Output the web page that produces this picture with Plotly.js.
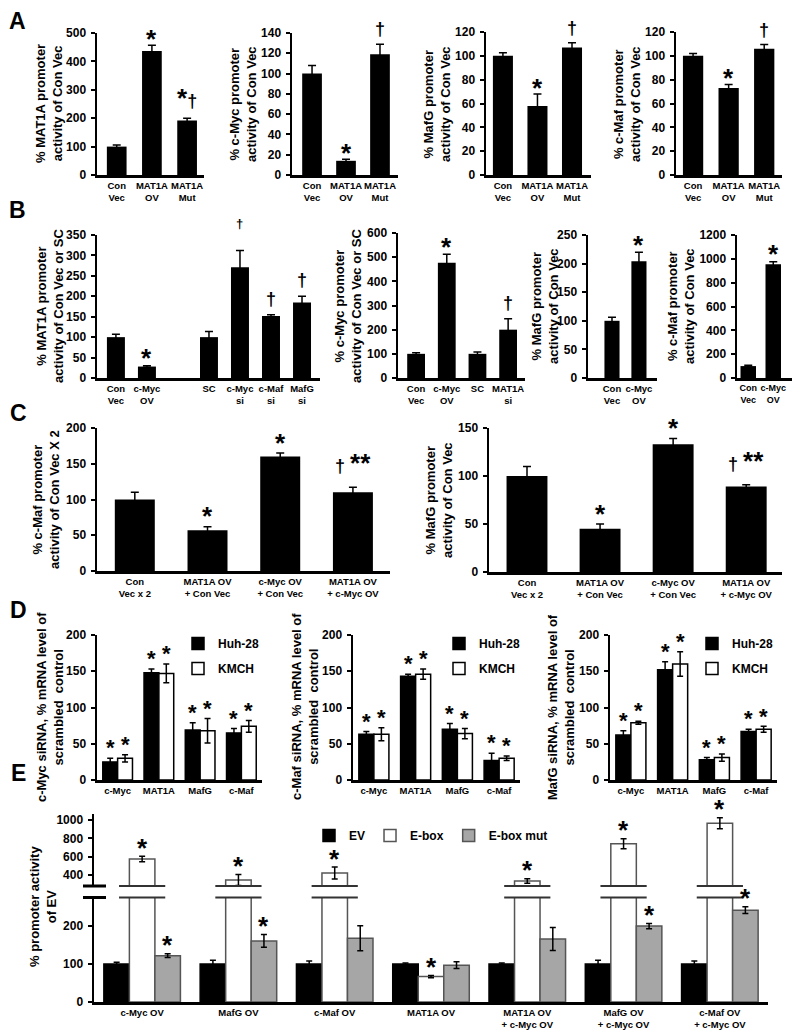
<!DOCTYPE html>
<html><head><meta charset="utf-8">
<script src="https://cdn.plot.ly/plotly-3.0.1.min.js"></script>
<style>html,body{margin:0;padding:0;background:#fff}#chart{width:800px;height:1035px}</style>
</head><body><div id="chart"></div>
<script>
// ================= DATA =================
// Panel A
const aCats = ['Con<br>Vec', 'MAT1A<br>OV', 'MAT1A<br>Mut'];
const a1Vals = [100, 437, 192];  const a1Errs = [6, 20, 8];    const a1Sig = ['', '*', '*†'];
const a2Vals = [100, 14, 119];   const a2Errs = [8, 1.5, 10];  const a2Sig = ['', '*', '†'];
const a3Vals = [100, 58, 107];   const a3Errs = [2.5, 10, 4];  const a3Sig = ['', '*', '†'];
const a4Vals = [100, 73, 106];   const a4Errs = [2, 3, 3.5];   const a4Sig = ['', '*', '†'];
// Panel B
const b1Cats = ['Con<br>Vec', 'c-Myc<br>OV', ' ', 'SC', 'c-Myc<br>si', 'c-Maf<br>si', 'MafG<br>si'];
const b1Vals = [100, 28, null, 100, 271, 152, 185];
const b1Errs = [7, 2, 0, 14, 41, 3, 15];
const b1Sig  = ['', '*', '', '', '†', '†', '†'];
const b2Cats = ['Con<br>Vec', 'c-Myc<br>OV', 'SC', 'MAT1A<br>si'];
const b2Vals = [100, 477, 100, 200]; const b2Errs = [5, 35, 8, 45]; const b2Sig = ['', '*', '', '†'];
const b3Cats = ['Con<br>Vec', 'c-Myc<br>OV'];
const b3Vals = [100, 204]; const b3Errs = [6, 16]; const b3Sig = ['', '*'];
const b4Cats = ['Con<br>Vec', 'c-Myc<br>OV'];
const b4Vals = [100, 955]; const b4Errs = [8, 20]; const b4Sig = ['', '*'];
// Panel C
const cCats = ['Con<br>Vec x 2', 'MAT1A OV<br>+ Con Vec', 'c-Myc OV<br>+ Con Vec', 'MAT1A OV<br>+ c-Myc OV'];
const c1Vals = [100, 57, 160, 110]; const c1Errs = [10, 5, 5, 7]; const c1Sig = ['', '*', '*', '† **'];
const c2Vals = [100, 45, 133, 89];  const c2Errs = [10, 5, 6, 2]; const c2Sig = ['', '*', '*', '† **'];
// Panel D
const dCats = ['c-Myc', 'MAT1A', 'MafG', 'c-Maf'];
const dSeries = ['Huh-28', 'KMCH'];
const d1Huh = [25, 148, 69, 65];  const d1HuhErr = [5, 5, 10, 6];  const d1Kmch = [30, 147, 68, 74]; const d1KmchErr = [5, 13, 17, 8];
const d2Huh = [63, 143, 70, 27];  const d2HuhErr = [4, 3, 8, 10];  const d2Kmch = [63, 146, 64, 30]; const d2KmchErr = [9, 7, 7, 3];
const d3Huh = [62, 152, 28, 67];  const d3HuhErr = [6, 11, 3, 3];  const d3Kmch = [79, 160, 31, 70]; const d3KmchErr = [2, 17, 5, 4];
const dHuhSig = ['*', '*', '*', '*'];
const dKmchSig = ['*', '*', '*', '*'];
// Panel E
const eCats = ['c-Myc OV', 'MafG OV', 'c-Maf OV', 'MAT1A OV', 'MAT1A OV<br>+ c-Myc OV', 'MafG OV<br>+ c-Myc OV', 'c-Maf OV<br>+ c-Myc OV'];
const eSeries = ['EV', 'E-box', 'E-box mut'];
const eEV     = [100, 100, 100, 100, 100, 100, 100];
const eEVErr  = [5, 10, 8, 3, 3, 10, 8];
const eEbox   = [575, 345, 422, 67, 335, 740, 965];
const eEboxErr= [30, 60, 65, 3, 25, 55, 60];
const eMut    = [122, 161, 168, 97, 166, 200, 242];
const eMutErr = [5, 17, 33, 9, 30, 7, 9];
const eEVSig   = ['', '', '', '', '', '', ''];
const eEboxSig = ['*', '*', '*', '*', '*', '*', '*'];
const eMutSig  = ['*', '*', '', '', '', '*', '*'];

// ================= LAYOUT HELPERS =================
const FAM = 'Liberation Sans, Arial, Helvetica, sans-serif';
const W = 800, H = 1035;
const px = v => v / W;
const py = v => 1 - v / H;
const ax = n => (n === 1 ? '' : String(n));

const traces = [];
const layout = {
  width: W, height: H, margin: {l: 0, r: 0, t: 0, b: 0},
  paper_bgcolor: 'white', plot_bgcolor: 'white',
  barmode: 'overlay', showlegend: true,
  font: {family: FAM, color: 'black'},
  annotations: [], shapes: []
};

function xAxis(n, cfg, cats, anchorY) {
  layout['xaxis' + ax(n)] = {
    domain: [px(cfg.x0), px(cfg.x1)], range: cfg.xr, type: 'category',
    categoryorder: 'array', categoryarray: cats, tickangle: 0,
    anchor: 'y' + ax(anchorY || n), showline: true, linewidth: 2.5, linecolor: 'black',
    ticks: '', showgrid: false, zeroline: false, fixedrange: true,
    tickfont: {family: FAM, size: cfg.tf || 9.5, color: 'black', weight: 'bold'}
  };
}
function yAxis(n, y0, y1, rng, dtick, anchorX) {
  layout['yaxis' + ax(n)] = {
    domain: [py(y0), py(y1)], range: rng, anchor: 'x' + ax(anchorX || n),
    showline: true, linewidth: 2.5, linecolor: 'black',
    ticks: 'outside', ticklen: 4, tickwidth: 2, tickcolor: 'black',
    tick0: 0, dtick: dtick, showgrid: false, zeroline: false, fixedrange: true,
    ticklabelstandoff: 2,
    tickfont: {family: FAM, size: 12, color: 'black', weight: 'bold'}
  };
}
function sigAnn(nx, ny, x, y, t, gap, starSize) {
  if (!t) return;
  const hasDagger = t.includes('†');
  const text = hasDagger
    ? t.split('').map(ch => ch === '*' ? '<span style="font-size:' + starSize + 'px">*</span>' : ch).join('')
    : t;
  layout.annotations.push({
    xref: 'x' + ax(nx), yref: 'y' + ax(ny), x: x, y: y, text: text, showarrow: false,
    xanchor: 'center', yanchor: 'bottom',
    yshift: hasDagger ? gap - 3 : gap - 0.6 * starSize - 1,
    font: {family: FAM, size: hasDagger ? 18 : starSize, color: 'black', weight: 'bold'}
  });
}
function yTitle(cx, cy, text, size) {
  layout.annotations.push({
    xref: 'paper', yref: 'paper', x: px(cx), y: py(cy), text: text, textangle: -90,
    showarrow: false, xanchor: 'center', yanchor: 'middle',
    font: {family: FAM, size: size || 13, color: 'black', weight: 'bold'}
  });
}
function letter(cx, cy, t) {
  layout.annotations.push({
    xref: 'paper', yref: 'paper', x: px(cx), y: py(cy), text: t, showarrow: false,
    xanchor: 'center', yanchor: 'middle', font: {family: FAM, size: 23, color: 'black', weight: 'bold'}
  });
}

// single-series panel
function singlePanel(n, cats, vals, errs, sig, cfg) {
  xAxis(n, cfg, cats);
  yAxis(n, cfg.y0, cfg.y1, cfg.rng, cfg.dtick);
  traces.push({
    type: 'bar', x: cats, y: vals, xaxis: 'x' + ax(n), yaxis: 'y' + ax(n),
    width: cfg.bw, marker: {color: 'black', line: {width: 0}},
    error_y: {type: 'data', array: errs, visible: true, color: 'black', thickness: 1.5, width: 4},
    showlegend: false, hoverinfo: 'skip', cliponaxis: false
  });
  sig.forEach((t, i) => {
    const st = (cfg.sigStyle && cfg.sigStyle[i]) || {};
    if (st.small) {
      layout.annotations.push({
        xref: 'x' + ax(n), yref: 'y' + ax(n), x: i, y: vals[i] + errs[i], text: t,
        showarrow: false, xanchor: 'center', yanchor: 'bottom', yshift: st.yshift,
        font: {family: FAM, size: st.small, color: 'black', weight: 'bold'}
      });
    } else {
      sigAnn(n, n, i, vals[i] + errs[i], t, cfg.gap, cfg.star || 26);
    }
  });
  yTitle(cfg.tx, cfg.ty, cfg.title);
}

// ================= PANEL A =================
singlePanel(1, aCats, a1Vals, a1Errs, a1Sig, {x0: 97, x1: 204, y0: 175, y1: 33, rng: [0, 500], dtick: 100, xr: [-0.56, 2.48], bw: 0.56, gap: 6,
  tx: 49, ty: 104, title: '% MAT1A promoter<br>activity of Con Vec'});
singlePanel(2, aCats, a2Vals, a2Errs, a2Sig, {x0: 292, x1: 398, y0: 175, y1: 33, rng: [0, 140], dtick: 20, xr: [-0.59, 2.53], bw: 0.58, gap: 6,
  tx: 243, ty: 104, title: '% c-Myc promoter<br>activity of Con Vec'});
singlePanel(3, aCats, a3Vals, a3Errs, a3Sig, {x0: 486, x1: 591, y0: 175, y1: 32, rng: [0, 120], dtick: 20, xr: [-0.49, 2.55], bw: 0.58, gap: 6,
  tx: 437, ty: 104, title: '% MafG promoter<br>activity of Con Vec'});
singlePanel(4, aCats, a4Vals, a4Errs, a4Sig, {x0: 676, x1: 782, y0: 175, y1: 32, rng: [0, 120], dtick: 20, xr: [-0.48, 2.5], bw: 0.57, gap: 6,
  tx: 627, ty: 104, title: '% c-Maf promoter<br>activity of Con Vec'});

// ================= PANEL B =================
singlePanel(5, b1Cats, b1Vals, b1Errs, b1Sig, {x0: 97, x1: 320, y0: 378, y1: 235, rng: [0, 350], dtick: 50, xr: [-0.61, 6.58], bw: 0.58, gap: 7,
  sigStyle: {4: {small: 13, yshift: 18}},
  tx: 50, ty: 306, title: '% MAT1A promoter<br>activity of Con Vec or SC'});
singlePanel(6, b2Cats, b2Vals, b2Errs, b2Sig, {x0: 398, x1: 525, y0: 378, y1: 233, rng: [0, 600], dtick: 100, xr: [-0.59, 3.55], bw: 0.58, gap: 7,
  tx: 348, ty: 306, title: '% c-Myc promoter<br>activity of Con Vec or SC'});
singlePanel(7, b3Cats, b3Vals, b3Errs, b3Sig, {x0: 588, x1: 657, y0: 378, y1: 235, rng: [0, 250], dtick: 50, xr: [-0.89, 1.67], bw: 0.56, gap: 7,
  tx: 545, ty: 306, title: '% MafG promoter<br>activity of Con Vec'});
singlePanel(8, b4Cats, b4Vals, b4Errs, b4Sig, {x0: 737, x1: 792, y0: 378, y1: 235, rng: [0, 1200], dtick: 200, xr: [-0.45, 1.75], bw: 0.62, gap: 7, tf: 9,
  tx: 681, ty: 306, title: '% c-Maf promoter<br>activity of Con Vec'});

// ================= PANEL C =================
singlePanel(9, cCats, c1Vals, c1Errs, c1Sig, {x0: 97, x1: 390, y0: 571, y1: 428, rng: [0, 200], dtick: 50, xr: [-0.52, 3.51], bw: 0.55, gap: 10,
  tx: 46, ty: 500, title: '% c-Maf promoter<br>activity of Con Vec X 2'});
singlePanel(10, cCats, c2Vals, c2Errs, c2Sig, {x0: 489, x1: 782, y0: 572, y1: 428, rng: [0, 150], dtick: 50, xr: [-0.52, 3.49], bw: 0.56, gap: 10,
  tx: 439, ty: 500, title: '% MafG promoter<br>activity of Con Vec'});

// ================= PANEL D =================
const dPanels = [
  {n: 11, huh: d1Huh, huhErr: d1HuhErr, kmch: d1Kmch, kmchErr: d1KmchErr, x0: 97, x1: 262, leg: 'legend', lx: 178,
   tx: 50, title: 'c-Myc siRNA, % mRNA level of<br>scrambled  control'},
  {n: 12, huh: d2Huh, huhErr: d2HuhErr, kmch: d2Kmch, kmchErr: d2KmchErr, x0: 353, x1: 520, leg: 'legend2', lx: 439,
   tx: 305, title: 'c-Maf siRNA, % mRNA level of<br>scrambled  control'},
  {n: 13, huh: d3Huh, huhErr: d3HuhErr, kmch: d3Kmch, kmchErr: d3KmchErr, x0: 610, x1: 777, leg: 'legend3', lx: 692,
   tx: 561, title: 'MafG siRNA, % mRNA level of<br>scrambled  control'}
];
const dBW = 0.36;
dPanels.forEach(p => {
  const cfg = {x0: p.x0, x1: p.x1, xr: [-0.5, 3.5]};
  xAxis(p.n, cfg, dCats);
  yAxis(p.n, 780, 635, [0, 200], 50);
  const series = [
    {name: dSeries[0], y: p.huh, e: p.huhErr, sig: dHuhSig, off: -dBW, color: 'black'},
    {name: dSeries[1], y: p.kmch, e: p.kmchErr, sig: dKmchSig, off: 0, color: 'white'}
  ];
  series.forEach(s => {
    traces.push({
      type: 'bar', name: s.name, x: dCats, y: s.y, xaxis: 'x' + p.n, yaxis: 'y' + p.n,
      width: dBW, offset: s.off, legend: p.leg, legendgroup: s.name + p.n,
      marker: {color: s.color, line: {color: 'black', width: 1.5}},
      error_y: {type: 'data', array: s.e, visible: true, color: 'black', thickness: 1.5, width: 3},
      hoverinfo: 'skip'
    });
    s.sig.forEach((t, i) => sigAnn(p.n, p.n, i + s.off + dBW / 2, s.y[i] + s.e[i], t, 10, 22));
  });
  layout[p.leg] = {
    x: px(p.lx), y: py(629), xanchor: 'left', yanchor: 'top', bgcolor: 'rgba(0,0,0,0)',
    font: {family: FAM, size: 12, color: 'black', weight: 'bold'}, tracegroupgap: 6, traceorder: 'grouped'
  };
  yTitle(p.tx, 707, p.title);
});

// ================= PANEL E =================
const eLowTop = 274, eHighBottom = 280;
const eBW = 0.265;
const eX = 14, eYLow = 14, eYHigh = 15;
xAxis(eX, {x0: 94, x1: 768, xr: [-0.5, 6.5]}, eCats, eYLow);
yAxis(eYLow, 1002, 898, [0, eLowTop], 100, eX);
yAxis(eYHigh, 886, 814, [eHighBottom, 1065], 200, eX);
const eDefs = [
  {name: eSeries[0], y: eEV, e: eEVErr, sig: eEVSig, off: -1.5 * eBW, color: 'black', line: 'black'},
  {name: eSeries[1], y: eEbox, e: eEboxErr, sig: eEboxSig, off: -0.5 * eBW, color: 'white', line: '#555'},
  {name: eSeries[2], y: eMut, e: eMutErr, sig: eMutSig, off: 0.5 * eBW, color: '#a6a6a6', line: '#555'}
];
eDefs.forEach(s => {
  traces.push({
    type: 'bar', name: s.name, x: eCats, y: s.y, xaxis: 'x' + eX, yaxis: 'y' + eYLow,
    width: eBW, offset: s.off, legend: 'legend4',
    marker: {color: s.color, line: {color: s.line, width: 1.5}},
    error_y: {type: 'data', array: s.e.map((v, i) => s.y[i] > eLowTop ? 0 : v), visible: true, color: 'black', thickness: 1.5, width: 3},
    hoverinfo: 'skip'
  });
  s.sig.forEach((t, i) => {
    if (!t) return;
    const ny = s.y[i] > eLowTop ? eYHigh : eYLow;
    sigAnn(eX, ny, i + s.off + eBW / 2, s.y[i] + s.e[i], t, 8, 26);
  });
});
// upper (broken-axis) segment of the E-box bars
traces.push({
  type: 'bar', name: eSeries[1], x: eCats, y: eEbox.map(v => v > eLowTop ? v : null),
  xaxis: 'x' + eX, yaxis: 'y' + eYHigh, width: eBW, offset: -0.5 * eBW, showlegend: false,
  marker: {color: 'white', line: {color: '#555', width: 1.5}},
  error_y: {type: 'data', array: eEboxErr, visible: true, color: 'black', thickness: 1.5, width: 3},
  hoverinfo: 'skip'
});
// axis-break marks
const breakYs = [886, 897.5];
eEbox.forEach((v, i) => {
  if (v <= eLowTop) return;
  breakYs.forEach(yb => layout.shapes.push({
    type: 'line', xref: 'x' + eX, yref: 'paper', x0: i - 0.24, x1: i + 0.24, y0: py(yb), y1: py(yb),
    line: {color: '#333', width: 2}
  }));
});
breakYs.forEach(yb => layout.shapes.push({
  type: 'line', xref: 'paper', yref: 'paper', x0: px(83), x1: px(106), y0: py(yb), y1: py(yb),
  line: {color: 'black', width: 3}
}));
layout.legend4 = {
  x: px(309), y: py(821), xanchor: 'left', yanchor: 'top', orientation: 'h', bgcolor: 'rgba(0,0,0,0)',
  font: {family: FAM, size: 12, color: 'black', weight: 'bold'}
};
yTitle(43, 907, '% promoter activity<br>of EV');

// panel letters
letter(17, 21, 'A'); letter(17, 210, 'B'); letter(18, 413, 'C'); letter(18, 610, 'D'); letter(18, 773, 'E');

Plotly.newPlot('chart', traces, layout, {staticPlot: true, displayModeBar: false});
</script>
</body></html>
